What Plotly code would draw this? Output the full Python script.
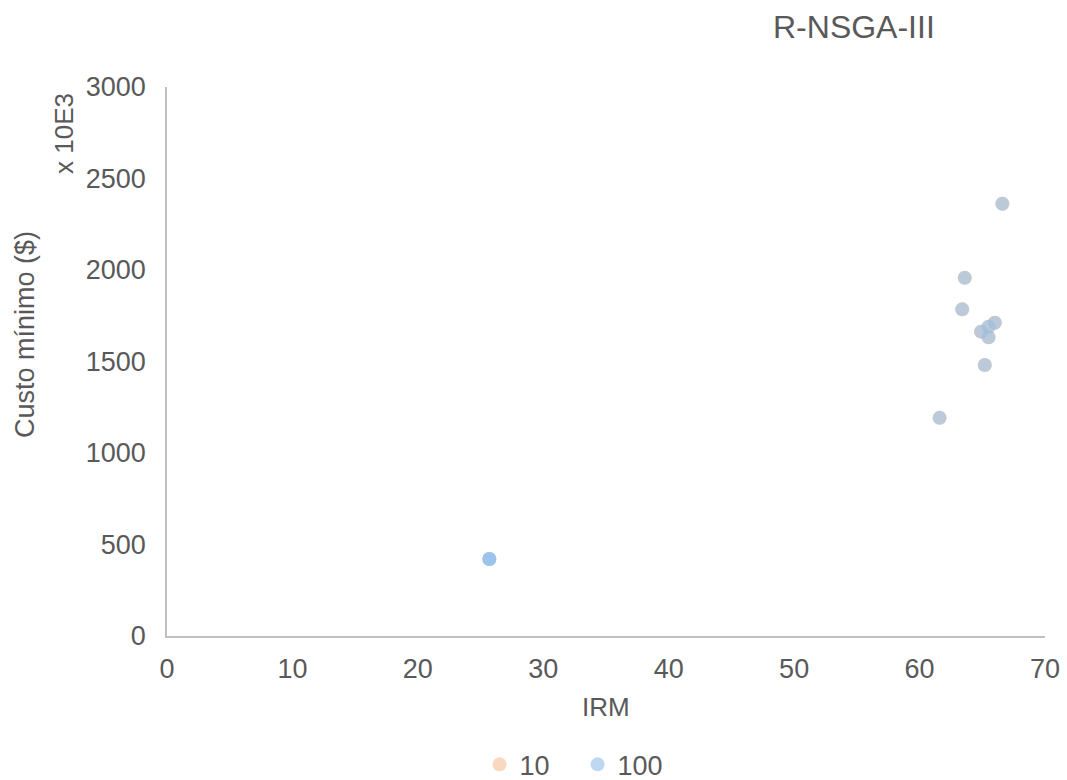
import plotly.graph_objects as go

# Data
irm_10 = [66.6, 63.6, 63.4, 66.0, 65.5, 64.9, 65.5, 65.2, 61.6]
custo_10 = [2362, 1957, 1785, 1712, 1690, 1663, 1632, 1481, 1192]
irm_100 = [66.6, 63.6, 63.4, 66.0, 65.5, 64.9, 65.5, 65.2, 61.6, 25.7, 25.7, 25.7]
custo_100 = [2362, 1957, 1785, 1712, 1690, 1663, 1632, 1481, 1192, 421, 421, 421]
series_names = ["10", "100"]
x_ticks = [0, 10, 20, 30, 40, 50, 60, 70]
y_ticks = [0, 500, 1000, 1500, 2000, 2500, 3000]

FONT = "Liberation Sans, Arial, sans-serif"
TXT = "#595959"

fig = go.Figure()
fig.add_trace(go.Scatter(x=irm_10, y=custo_10, mode="markers", name=series_names[0],
                         marker=dict(size=14, color="rgba(244,177,131,0.5)", line=dict(width=0))))
fig.add_trace(go.Scatter(x=irm_100, y=custo_100, mode="markers", name=series_names[1],
                         marker=dict(size=14, color="rgba(150,192,232,0.62)", line=dict(width=0))))

fig.update_layout(
    width=1067, height=780,
    margin=dict(l=167, r=22, t=87, b=144, autoexpand=False),
    paper_bgcolor="white", plot_bgcolor="white",
    font=dict(family=FONT, size=27, color=TXT),
    showlegend=True,
    legend=dict(orientation="h", x=0.356, xanchor="left", y=-0.19, yanchor="top",
                font=dict(size=27, color=TXT), entrywidth=53, bgcolor="rgba(0,0,0,0)"),
    xaxis=dict(range=[0, 70], tickvals=x_ticks, showgrid=False, zeroline=False,
               showline=True, linecolor="#BFBFBF", linewidth=1.5,
               ticks="outside", ticklen=8, tickcolor="rgba(0,0,0,0)",
               tickfont=dict(size=27, color=TXT)),
    yaxis=dict(range=[0, 3000], tickvals=y_ticks, showgrid=False, zeroline=False,
               showline=True, linecolor="#BFBFBF", linewidth=1.5,
               ticks="outside", ticklen=14, tickcolor="rgba(0,0,0,0)",
               tickfont=dict(size=27, color=TXT)),
    annotations=[
        dict(text="R-NSGA-III", xref="paper", yref="paper", x=(854 - 167) / 878, y=(636 - 27) / 549,
             xanchor="center", yanchor="middle", showarrow=False, font=dict(size=32, color=TXT)),
        dict(text="IRM", xref="paper", yref="paper", x=0.5, y=(636 - 707) / 549,
             xanchor="center", yanchor="middle", showarrow=False, font=dict(size=26, color=TXT)),
        dict(text="Custo mínimo ($)", xref="paper", yref="paper", x=(25 - 167) / 878, y=(636 - 335) / 549,
             xanchor="center", yanchor="middle", textangle=-90, showarrow=False, font=dict(size=27, color=TXT)),
        dict(text="x 10E3", xref="paper", yref="paper", x=(64 - 167) / 878, y=(636 - 134) / 549,
             xanchor="center", yanchor="middle", textangle=-90, showarrow=False, font=dict(size=26, color=TXT)),
    ],
)

fig.write_html("out.html")
